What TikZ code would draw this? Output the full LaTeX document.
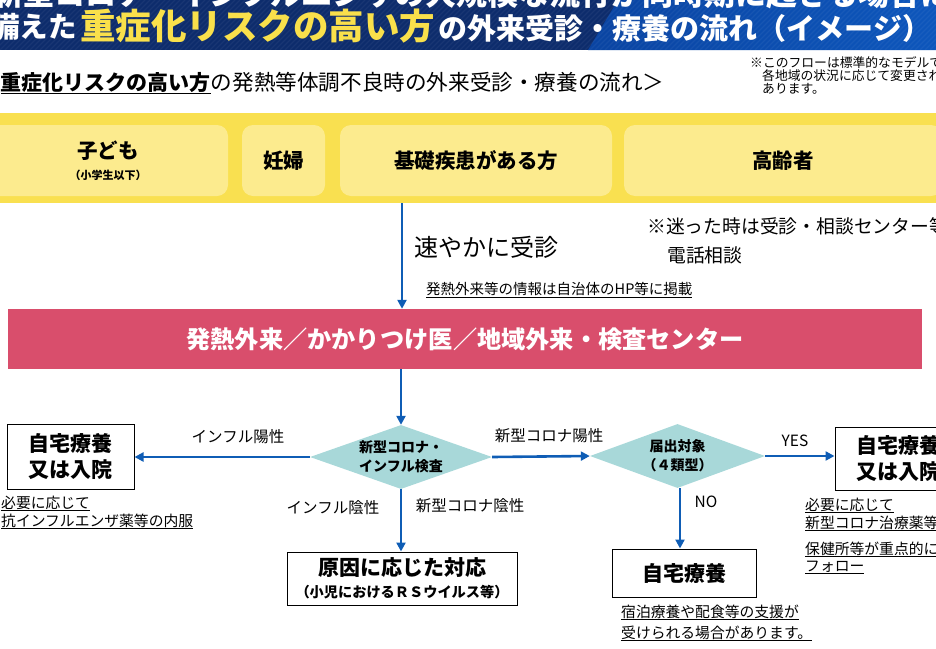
\documentclass[tikz,border=0pt]{standalone}
\usepackage{fontspec}
\setmainfont{Noto Sans CJK JP}
\usetikzlibrary{arrows.meta,shapes.geometric}
\definecolor{navy}{HTML}{0D2C6C}
\definecolor{bannerB}{HTML}{0A44A2}
\definecolor{bannerC}{HTML}{0D56BC}
\definecolor{titleyellow}{HTML}{F9E04B}
\definecolor{bandyellow}{HTML}{F9E050}
\definecolor{boxyellow}{HTML}{FCEB8E}
\definecolor{pinkred}{HTML}{D94E6C}
\definecolor{tealfill}{HTML}{A8D8D9}
\definecolor{arrowblue}{HTML}{0F5DB5}
\newcommand{\fs}[2]{\fontsize{#1}{#2}\selectfont}
\tikzset{
  arr/.style={draw=arrowblue, line width=2.6pt, -{Triangle[length=9pt,width=9pt]}},
  lbl/.style={inner sep=0pt, font=\fs{15.5}{18}},
  note/.style={inner sep=0pt, anchor=base west, font=\fs{14.8}{18}},
  catbox/.style={fill=boxyellow, rounded corners=11pt, minimum height=71pt, inner sep=0pt, align=center, font=\bfseries\fs{20.5}{24}},
  resbox/.style={draw=black, line width=1pt, fill=white, align=center, inner sep=0pt},
  dia/.style={shape=diamond, fill=tealfill, inner sep=0pt},
  dialbl/.style={inner sep=0pt, align=center, font=\bfseries\fs{14}{19}},
}
\begin{document}
\begin{tikzpicture}[x=1pt,y=-1pt]
\useasboundingbox (0,0) rectangle (936,648);
\clip (0,0) rectangle (936,648);
% banner
\fill[navy] (0,0) rectangle (936,50);
\shade[left color=bannerB, right color=bannerC] (618,0) -- (936,0) -- (936,50) -- (588,50) -- cycle;
\begin{scope}
\clip (0,0) rectangle (936,50);
\foreach \i in {-60,-55,...,940} \draw[white, opacity=0.05, line width=1.2pt] (\i,50) -- (\i+50,0);
\end{scope}
\node[anchor=base west, inner sep=0pt, text=white, font=\bfseries\fs{31}{33}] (t1) at (-8,5) {新型コロナ・インフルエンザの大規模な流行が同時期に起きる場合に};
\node[anchor=base east, inner sep=0pt, text=white, font=\bfseries\fs{28.5}{30}] (t2a) at (77,37.5) {備えた};
\node[anchor=base west, inner sep=0pt, text=titleyellow, font=\bfseries\fs{35.5}{38}] (t2b) at (80,39) {重症化リスクの高い方};
\node[anchor=base west, inner sep=0pt, text=white, font=\bfseries\fs{29}{30}] (t2c) at ([xshift=3pt]t2b.base east) {の外来受診・療養の流れ（イメージ）};
% subtitle
\node[anchor=base west, inner sep=0pt, font=\fs{21.6}{24}] (sub) at (-21,90) {＜{\bfseries\fs{21}{24}\underline{重症化リスクの高い方}}の発熱等体調不良時の外来受診・療養の流れ＞};
\node[anchor=base west, inner sep=0pt, font=\fs{12.8}{14}] (n1) at (750,67) {※このフローは標準的なモデルです。};
\node[anchor=base west, inner sep=0pt, font=\fs{12.8}{14}] (n2) at (762,80) {各地域の状況に応じて変更される場合が};
\node[anchor=base west, inner sep=0pt, font=\fs{12.8}{14}] (n3) at (762,93) {あります。};
% yellow band
\fill[bandyellow] (0,113) rectangle (936,203);
\coordinate (bandbot) at (402,203);
\node[catbox, minimum width=240pt] (c1) at (108,160.5) {子ども\\[-3pt]{\fs{11}{13}（小学生以下）}};
\node[catbox, minimum width=83pt] (c2) at (283.5,160.5) {妊婦};
\node[catbox, minimum width=272pt] (c3) at (476,160.5) {基礎疾患がある方};
\node[catbox, minimum width=318pt] (c4) at (783,160.5) {高齢者};
% pink box
\node[fill=pinkred, minimum width=914pt, minimum height=60pt, inner sep=0pt, text=white, font=\bfseries\fs{24.2}{26}] (pink) at (465,339) {発熱外来／かかりつけ医／地域外来・検査センター};
\draw[arr] (bandbot) -- (bandbot |- pink.north);
\node[anchor=west, inner sep=0pt, font=\fs{24}{28}] (l0) at (414,247) {速やかに受診};
\node[anchor=west, inner sep=0pt, font=\fs{18.8}{22}] (l1) at (647,226) {※迷った時は受診・相談センター等};
\node[anchor=west, inner sep=0pt, font=\fs{18.8}{22}] (l2) at (667,255) {電話相談};
\node[anchor=west, inner sep=0pt, font=\fs{14.5}{17}] (l3) at (426,290) {\underline{発熱外来等の情報は自治体のHP等に掲載}};
% diamonds
\node[dia, minimum width=182pt, minimum height=64pt, label={[dialbl]center:{新型コロナ・\\インフル検査}}] (d1) at (401,457) {};
\node[dia, minimum width=175pt, minimum height=64pt, label={[dialbl]center:{届出対象\\（４類型）}}] (d2) at (677.5,456) {};
\draw[arr] (pink.south -| d1.north) -- (d1.north);
% result boxes
\node[resbox, minimum width=127pt, minimum height=65pt, font=\bfseries\fs{21}{26}] (lbox) at (70.5,456.5) {自宅療養\\又は入院};
\node[resbox, minimum width=127pt, minimum height=63pt, font=\bfseries\fs{21}{26}] (rbox) at (898.5,458.5) {自宅療養\\又は入院};
\node[resbox, minimum width=230pt, minimum height=53pt, font=\bfseries\fs{21}{24}] (cbox) at (402,578.5) {原因に応じた対応\\[-2pt]{\fs{14.2}{16}（小児におけるＲＳウイルス等）}};
\node[resbox, minimum width=144pt, minimum height=48pt, font=\bfseries\fs{21}{24}] (hbox) at (684,573) {自宅療養};
% arrows
\draw[arr] (d1.west) -- (d1.west -| lbox.east);
\draw[arr] (d1.east) -- (d2.west);
\draw[arr] (d2.east) -- (d2.east -| rbox.west);
\draw[arr] (d1.south) -- (d1.south |- cbox.north);
\coordinate (d2s) at ([xshift=2.5pt]d2.south);
\draw[arr] (d2s) -- (d2s |- hbox.north);
% arrow labels
\node[lbl] (la) at (238,437) {インフル陽性};
\node[lbl] (lb) at (549,436) {新型コロナ陽性};
\node[lbl] (lc) at (795,441) {YES};
\node[lbl] (ld) at (706,502) {NO};
\node[lbl] (le) at (333,508) {インフル陰性};
\node[lbl] (lf) at (470,506) {新型コロナ陰性};
% notes
\node[note] (na1) at (1,508) {\underline{必要に応じて}};
\node[note] (na2) at (1,526) {\underline{抗インフルエンザ薬等の内服}};
\node[note] (nb1) at (805,510) {\underline{必要に応じて}};
\node[note] (nb2) at (805,528) {\underline{新型コロナ治療薬等の内服}};
\node[note] (nb3) at (805,554) {\underline{保健所等が重点的に}};
\node[note] (nb4) at (805,571) {\underline{フォロー}};
\node[note] (nc1) at (621,617) {\underline{宿泊療養や配食等の支援が}};
\node[note] (nc2) at (621,638) {\underline{受けられる場合があります。}};
\end{tikzpicture}
\end{document}
